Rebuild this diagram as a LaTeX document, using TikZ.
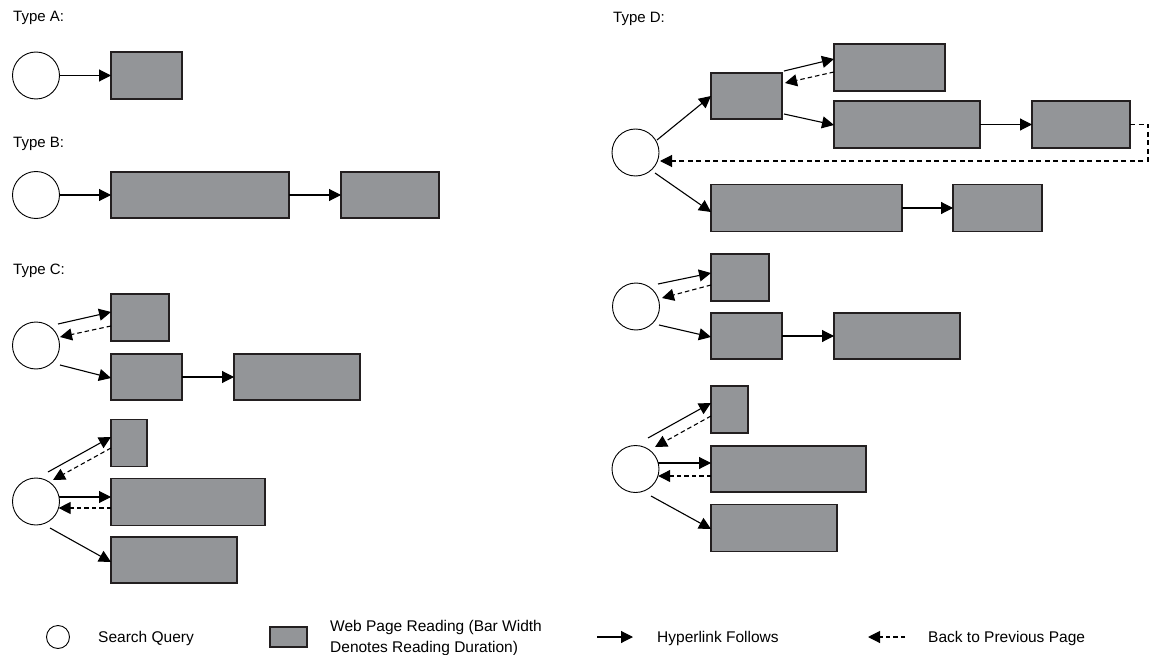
\documentclass[tikz,border=0pt]{standalone}
\usepackage{fontspec}
\setmainfont{Liberation Sans}
\usetikzlibrary{arrows.meta,calc}

\definecolor{pagefill}{HTML}{939598}
\definecolor{inkline}{HTML}{231F20}

\tikzset{
  page/.style={draw=inkline, line width=1.3pt, fill=pagefill, inner sep=0pt, outer sep=0pt},
  query/.style={draw=black, line width=0.9pt, circle, fill=white, inner sep=0pt, outer sep=0pt, minimum size=47pt},
  link/.style={draw=black, line width=1.1pt, -{Triangle[length=12pt,width=12pt]}},
  back/.style={draw=black, line width=1.1pt, dash pattern=on 4.5pt off 3pt, -{Triangle[length=12pt,width=12pt]}},
  label/.style={anchor=base west, inner sep=0pt, font=\fontsize{15}{18}\selectfont},
  legendtext/.style={anchor=base west, inner sep=0pt, font=\fontsize{15.5}{18}\selectfont},
}

\begin{document}
\begin{tikzpicture}[x=1pt, y=-1pt]
\useasboundingbox (0,0) rectangle (1151,655);

% ---------------- Type A ----------------
\node[label] (tA) at (13,22) {Type A:};
\node[query] (qA) at (36,75.5) {};
\node[page, minimum width=71pt, minimum height=47pt] (A1) at (146.5,75.5) {};
\draw[link] (qA.east) -- (A1.west);

% ---------------- Type B ----------------
\node[label] (tB) at (13,148) {Type B:};
\node[query] (qB) at (36,195) {};
\node[page, minimum width=178pt, minimum height=46pt] (B1) at (200,195) {};
\node[page, minimum width=98pt, minimum height=46pt] (B2) at (390,195) {};
\draw[link] (qB.east) -- (B1.west);
\draw[link] (B1.east) -- (B2.west);

% ---------------- Type C ----------------
\node[label] (tC) at (13,274) {Type C:};
\node[query] (qC1) at (36,345.5) {};
\node[page, minimum width=58pt, minimum height=47pt] (C1a) at (140,317.5) {};
\node[page, minimum width=71pt, minimum height=46pt] (C1b) at (146.5,377) {};
\node[page, minimum width=126pt, minimum height=46pt] (C1c) at (297,377) {};
\draw[link] ($(qC1)+(22,-21.5)$) -- ($(C1a.west)+(0,-5.5)$);
\draw[back] ($(C1a.west)+(0,8.5)$) -- ($(qC1)+(24,-8.5)$);
\draw[link] ($(qC1)+(24,19.5)$) -- ($(C1b.west)+(0,1)$);
\draw[link] (C1b.east) -- (C1c.west);

\node[query] (qC2) at (36,501.5) {};
\node[page, minimum width=36pt, minimum height=47pt] (C2a) at (129,443) {};
\node[page, minimum width=154pt, minimum height=47pt] (C2b) at (188,502) {};
\node[page, minimum width=126pt, minimum height=46pt] (C2c) at (174,560) {};
\draw[link] ($(qC2)+(12,-29.5)$) -- ($(C2a.west)+(0,-6)$);
\draw[back] ($(C2a.west)+(0,5)$) -- ($(qC2)+(17,-21.5)$);
\draw[link] ($(qC2)+(23.06,-4.5)$) -- ($(C2b.west)+(0,-5)$);
\draw[back] ($(C2b.west)+(0,6)$) -- ($(qC2)+(22.6,6.5)$);
\draw[link] ($(qC2)+(14,26.5)$) -- ($(C2c.west)+(0,2)$);

% ---------------- Type D ----------------
\node[label] (tD) at (613,22.5) {Type D:};
\node[query] (qD1) at (635.5,152.5) {};
\node[page, minimum width=71pt, minimum height=46pt] (D1a) at (746.5,96) {};
\node[page, minimum width=111pt, minimum height=47pt] (D1b) at (889.5,67.5) {};
\node[page, minimum width=146pt, minimum height=47pt] (D1c) at (907,124.5) {};
\node[page, minimum width=98pt, minimum height=47pt] (D1d) at (1081,124.5) {};
\node[page, minimum width=191pt, minimum height=47pt] (D1e) at (806.5,208) {};
\node[page, minimum width=89pt, minimum height=47pt] (D1f) at (997.5,208) {};
\coordinate (ret) at (1148,161);
\draw[link] ($(qD1)+(21.5,-12.5)$) -- (D1a.west);
\draw[link] ($(D1a.north east)+(2,-2)$) -- ($(D1b.west)+(0,-8.5)$);
\draw[back] ($(D1b.west)+(0,4.5)$) -- ($(D1a.north east)+(3,10)$);
\draw[link] ($(D1a.east)+(2,18)$) -- ($(D1c.west)+(0,0.5)$);
\draw[link] (D1c.east) -- (D1d.west);
\draw[back, dash pattern=on 5pt off 3.5pt] (D1d.east) -| (ret) -- ($(qD1)+(24.5,8.5)$);
\draw[link] ($(qD1)+(19.5,20.5)$) -- ($(D1e.west)+(0,4)$);
\draw[link] (D1e.east) -- (D1f.west);

\node[query] (qD2) at (636,306.5) {};
\node[page, minimum width=58pt, minimum height=47pt] (D2a) at (740,277.5) {};
\node[page, minimum width=71pt, minimum height=46pt] (D2b) at (746.5,336) {};
\node[page, minimum width=126pt, minimum height=46pt] (D2c) at (897,336) {};
\draw[link] ($(qD2)+(22,-22.5)$) -- ($(D2a.west)+(0,-4.5)$);
\draw[back] ($(D2a.west)+(0,7.5)$) -- ($(qD2)+(26,-8.5)$);
\draw[link] ($(qD2)+(23,18.5)$) -- ($(D2b.west)+(0,1)$);
\draw[link] (D2b.east) -- (D2c.west);

\node[query] (qD3) at (635.5,469) {};
\node[page, minimum width=37pt, minimum height=47pt] (D3a) at (729.5,409.5) {};
\node[page, minimum width=155pt, minimum height=46pt] (D3b) at (788.5,469) {};
\node[page, minimum width=126pt, minimum height=47pt] (D3c) at (774,528) {};
\draw[link] ($(qD3)+(12.5,-31)$) -- ($(D3a.west)+(0,-6.5)$);
\draw[back] ($(D3a.west)+(0,6.5)$) -- ($(qD3)+(19.5,-22)$);
\draw[link] ($(qD3)+(22.7,-6)$) -- ($(D3b.west)+(0,-6)$);
\draw[back] ($(D3b.west)+(0,7)$) -- ($(qD3)+(22.7,7)$);
\draw[link] ($(qD3)+(15.5,27)$) -- ($(D3c.west)+(0,1)$);

% ---------------- Legend ----------------
\node[query, minimum size=23pt] (lq) at (58,637) {};
\node[legendtext] (lqt) at (98,642) {Search Query};
\node[page, minimum width=37pt, minimum height=20pt] (lp) at (288.5,637) {};
\node[legendtext] (lpt1) at (330,631) {Web Page Reading (Bar Width};
\node[legendtext] (lpt2) at (330,652) {Denotes Reading Duration)};
\coordinate (lh1) at (597,637);
\coordinate (lh2) at (633,637);
\draw[link] (lh1) -- (lh2);
\node[legendtext] (lht) at (657,642) {Hyperlink Follows};
\coordinate (lb1) at (905,637);
\coordinate (lb2) at (868,637);
\draw[back] (lb1) -- (lb2);
\node[legendtext] (lbt) at (928,642) {Back to Previous Page};
\end{tikzpicture}
\end{document}
